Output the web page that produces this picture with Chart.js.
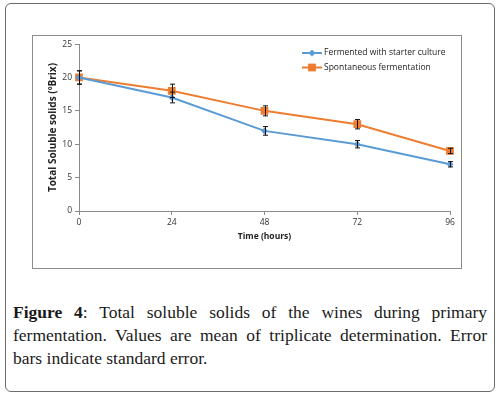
<!DOCTYPE html>
<html lang="en">
<head>
<meta charset="UTF-8">
<title>Figure 4</title>
<script src="https://cdn.jsdelivr.net/npm/chart.js"></script>
<style>
  html, body { margin: 0; padding: 0; background: #fff; }
  body { width: 500px; height: 395px; position: relative; overflow: hidden; }
  .frame { position: absolute; left: 5px; top: 3px; width: 490px; height: 389px;
           border: 1px solid #6b6b6b; border-radius: 6px; box-sizing: border-box; }
  .chartbox { position: absolute; left: 32px; top: 35px; width: 430px; height: 234px;
              border: 1px solid #8c8c8c; box-sizing: border-box; }
  .chartbox canvas { position: absolute; left: 0; top: 0; }
  .caption { position: absolute; left: 13px; top: 301px; width: 474px;
             font-family: "Liberation Serif", serif; font-size: 17.5px; line-height: 23px;
             text-align: justify; color: #1a1a1a; }
  .caption b { font-weight: bold; }
</style>
</head>
<body>
<div class="frame"></div>
<div class="chartbox"><canvas id="tssChart" width="428" height="232"></canvas></div>
<div class="caption"><b>Figure 4</b>: Total soluble solids of the wines during primary fermentation. Values are mean of triplicate determination. Error bars indicate standard error.</div>

<script>
const hours = ['0', '24', '48', '72', '96'];
const starterValues = [20, 17, 12, 10, 7];
const starterErrors = [1, 0.8, 0.65, 0.55, 0.4];
const spontValues = [20, 18, 15, 13, 9];
const spontErrors = [1, 1, 0.75, 0.7, 0.4];
const yTicks = [0, 5, 10, 15, 20, 25];

const blue = '#5b9bd5';
const orange = '#ed7d31';
const axisGrey = '#8a8a8a';
const tickFont = { family: 'Open Sans', size: 8.5 };

// error bars drawn from the arrays through the chart's scales
const errorBars = {
  id: 'errorBars',
  afterDatasetsDraw(chart) {
    const { ctx, scales: { x, y } } = chart;
    ctx.save();
    ctx.strokeStyle = '#111';
    ctx.lineWidth = 1;
    chart.data.datasets.forEach(ds => {
      ds.data.forEach((v, i) => {
        const px = Math.round(x.getPixelForValue(i)) + 0.5;
        const top = y.getPixelForValue(v + ds.errors[i]);
        const bot = y.getPixelForValue(v - ds.errors[i]);
        ctx.beginPath();
        ctx.moveTo(px, top); ctx.lineTo(px, bot);
        ctx.moveTo(px - 2.5, top); ctx.lineTo(px + 2.5, top);
        ctx.moveTo(px - 2.5, bot); ctx.lineTo(px + 2.5, bot);
        ctx.stroke();
      });
    });
    ctx.restore();
  }
};

// legend sitting inside the plot, top right
const insideLegend = {
  id: 'insideLegend',
  afterDraw(chart) {
    const { ctx } = chart;
    const x0 = 269, y0 = 17, gap = 14.5;
    ctx.save();
    ctx.font = '8.5px "Open Sans"';
    ctx.textBaseline = 'middle';
    chart.data.datasets.forEach((ds, i) => {
      const yy = y0 + i * gap;
      ctx.strokeStyle = ds.borderColor;
      ctx.lineWidth = 2;
      ctx.beginPath();
      ctx.moveTo(x0, yy); ctx.lineTo(x0 + 20, yy);
      ctx.stroke();
      ctx.fillStyle = ds.borderColor;
      Chart.helpers.drawPoint(ctx, {
        pointStyle: ds.pointStyle, radius: ds.pointRadius, borderWidth: 0
      }, x0 + 10, yy);
      ctx.fillStyle = '#222';
      ctx.fillText(ds.label, x0 + 22, yy);
    });
    ctx.restore();
  }
};

const ctx = document.getElementById('tssChart').getContext('2d');
new Chart(ctx, {
  type: 'line',
  data: {
    labels: hours,
    datasets: [
      {
        label: 'Fermented with starter culture',
        data: starterValues,
        errors: starterErrors,
        borderColor: blue,
        backgroundColor: blue,
        borderWidth: 2,
        pointStyle: 'rectRot',
        pointRadius: 3.5,
        pointBorderWidth: 0,
        tension: 0
      },
      {
        label: 'Spontaneous fermentation',
        data: spontValues,
        errors: spontErrors,
        borderColor: orange,
        backgroundColor: orange,
        borderWidth: 2,
        pointStyle: 'rect',
        pointRadius: 5.5,
        pointBorderWidth: 0,
        tension: 0
      }
    ]
  },
  options: {
    responsive: false,
    animation: false,
    layout: { padding: { top: 8, right: 11, left: 14, bottom: 22 } },
    plugins: { legend: { display: false }, tooltip: { enabled: false } },
    scales: {
      x: {
        type: 'category',
        offset: false,
        grid: { drawOnChartArea: false, color: axisGrey, tickLength: 4 },
        border: { color: axisGrey },
        ticks: { color: '#333', font: tickFont, padding: 2, maxRotation: 0 },
        title: { display: true, text: 'Time (hours)', color: '#222',
                 font: { family: 'Open Sans', size: 8.5, weight: 'bold' }, padding: { top: 3 } },
        afterFit(scale) { scale.height = 35; }
      },
      y: {
        min: 0,
        max: 25,
        afterBuildTicks(scale) { scale.ticks = yTicks.map(v => ({ value: v })); },
        grid: { drawOnChartArea: false, color: axisGrey, tickLength: 4 },
        border: { color: axisGrey },
        ticks: { color: '#333', font: tickFont, padding: 3 },
        title: { display: true, text: 'Total Soluble solids (ºBrix)', color: '#222',
                 font: { family: 'Open Sans', size: 10, weight: 'bold' }, padding: 0 },
        afterFit(scale) { scale.width = 32; }
      }
    }
  },
  plugins: [errorBars, insideLegend]
});
</script>
</body>
</html>
